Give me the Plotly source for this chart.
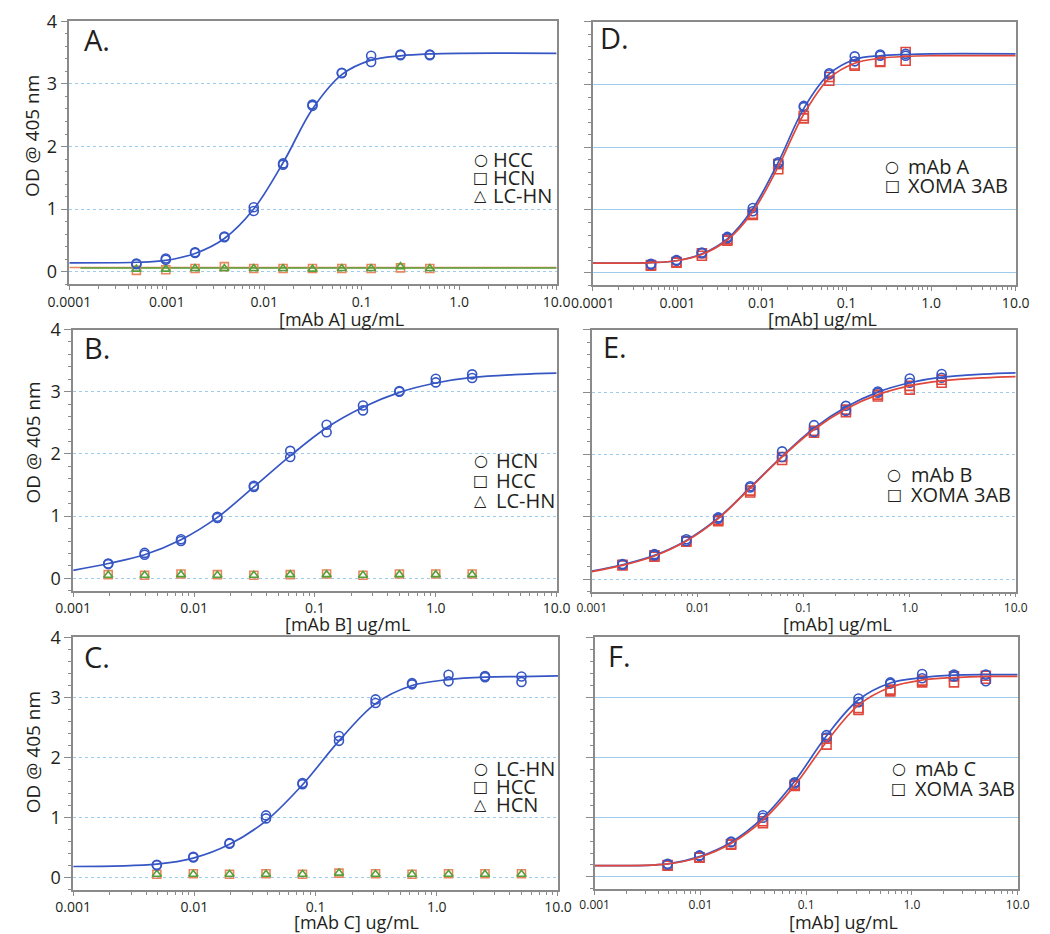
import plotly.graph_objects as go

W, H = 1050, 934

# ---------------- data ----------------
conc_A = [0.000488, 0.000977, 0.00195, 0.0039, 0.0078, 0.0156, 0.03125, 0.0625, 0.125, 0.25, 0.5]
conc_B = [0.00195, 0.0039, 0.0078, 0.0156, 0.03125, 0.0625, 0.125, 0.25, 0.5, 1.0, 2.0]
conc_C = [0.0049, 0.0098, 0.0195, 0.039, 0.078, 0.156, 0.3125, 0.625, 1.25, 2.5, 5.0]

fitx_A = [0.0001, 0.000488, 0.000977, 0.00195, 0.0039, 0.0078, 0.0156, 0.03125, 0.0625, 0.125, 0.25, 0.5, 1.0, 10.0]
fitx_B = [0.001, 0.00195, 0.0039, 0.0078, 0.0156, 0.03125, 0.0625, 0.125, 0.25, 0.5, 1.0, 2.0, 5.0, 10.0]
fitx_C = [0.001, 0.0049, 0.0098, 0.0195, 0.039, 0.078, 0.156, 0.3125, 0.625, 1.25, 2.5, 5.0, 10.0]

# Panel A: mAb A
A_HCC_r1 = [0.13, 0.19, 0.31, 0.56, 0.97, 1.73, 2.65, 3.18, 3.45, 3.47, 3.47]
A_HCC_r2 = [0.12, 0.21, 0.30, 0.55, 1.03, 1.71, 2.67, 3.17, 3.35, 3.46, 3.46]
A_HCN = [0.02, 0.03, 0.05, 0.08, 0.05, 0.05, 0.05, 0.05, 0.05, 0.06, 0.05]
A_LCHN = [0.04, 0.04, 0.05, 0.05, 0.05, 0.05, 0.04, 0.05, 0.05, 0.08, 0.05]
A_HCC_fit = [0.14, 0.15, 0.18, 0.29, 0.53, 1.00, 1.74, 2.60, 3.15, 3.38, 3.45, 3.48, 3.49, 3.49]
A_HCN_fit_x = [0.0001, 10.0]
A_HCN_fit = [0.065, 0.065]
A_LCHN_fit_x = [0.00013, 10.0]
A_LCHN_fit = [0.058, 0.058]

# Panel B: mAb B
B_HCN_r1 = [0.24, 0.41, 0.63, 0.99, 1.49, 2.05, 2.47, 2.78, 3.01, 3.21, 3.28]
B_HCN_r2 = [0.23, 0.38, 0.60, 0.97, 1.47, 1.95, 2.35, 2.70, 3.00, 3.15, 3.22]
B_HCC = [0.06, 0.05, 0.07, 0.06, 0.05, 0.06, 0.07, 0.05, 0.07, 0.07, 0.07]
B_LCHN = [0.05, 0.05, 0.06, 0.05, 0.05, 0.06, 0.06, 0.05, 0.06, 0.06, 0.06]
B_HCN_fit = [0.13, 0.24, 0.38, 0.62, 0.98, 1.47, 1.97, 2.42, 2.75, 2.99, 3.14, 3.23, 3.28, 3.30]

# Panel C: mAb C
C_LCHN_r1 = [0.22, 0.35, 0.58, 1.04, 1.58, 2.36, 2.97, 3.24, 3.38, 3.36, 3.35]
C_LCHN_r2 = [0.21, 0.34, 0.57, 0.99, 1.56, 2.28, 2.91, 3.22, 3.27, 3.34, 3.26]
C_HCC = [0.06, 0.07, 0.06, 0.07, 0.06, 0.08, 0.07, 0.06, 0.07, 0.07, 0.07]
C_HCN = [0.06, 0.06, 0.06, 0.06, 0.06, 0.08, 0.06, 0.06, 0.06, 0.06, 0.06]
C_LCHN_fit = [0.19, 0.23, 0.33, 0.56, 0.95, 1.55, 2.28, 2.90, 3.20, 3.30, 3.34, 3.35, 3.36]

# Panel D: mAb A vs XOMA 3AB
D_mAb_r1 = [0.14, 0.20, 0.32, 0.57, 1.03, 1.76, 2.66, 3.18, 3.45, 3.48, 3.49]
D_mAb_r2 = [0.13, 0.19, 0.31, 0.55, 0.98, 1.74, 2.64, 3.16, 3.37, 3.46, 3.46]
D_XOMA_r1 = [0.12, 0.17, 0.31, 0.53, 0.94, 1.73, 2.50, 3.12, 3.32, 3.37, 3.52]
D_XOMA_r2 = [0.11, 0.16, 0.27, 0.51, 0.92, 1.65, 2.46, 3.06, 3.30, 3.36, 3.38]
D_mAb_fit = [0.15, 0.16, 0.19, 0.30, 0.54, 1.02, 1.76, 2.62, 3.17, 3.40, 3.46, 3.48, 3.49, 3.49]
D_XOMA_fit = [0.15, 0.16, 0.19, 0.29, 0.52, 0.97, 1.69, 2.53, 3.10, 3.34, 3.42, 3.45, 3.46, 3.46]

# Panel E: mAb B vs XOMA 3AB
E_mAb_r1 = [0.24, 0.40, 0.64, 0.99, 1.49, 2.05, 2.47, 2.78, 3.01, 3.22, 3.29]
E_mAb_r2 = [0.23, 0.38, 0.61, 0.97, 1.47, 1.96, 2.36, 2.70, 2.99, 3.15, 3.23]
E_XOMA_r1 = [0.23, 0.38, 0.61, 0.95, 1.39, 1.91, 2.35, 2.68, 2.93, 3.04, 3.15]
E_XOMA_r2 = [0.22, 0.36, 0.60, 0.93, 1.42, 1.96, 2.38, 2.72, 2.96, 3.10, 3.20]
E_mAb_fit = [0.13, 0.23, 0.38, 0.62, 0.98, 1.47, 1.97, 2.42, 2.76, 3.00, 3.15, 3.24, 3.29, 3.31]
E_XOMA_fit = [0.12, 0.22, 0.37, 0.61, 0.97, 1.46, 1.96, 2.40, 2.73, 2.96, 3.10, 3.18, 3.23, 3.25]

# Panel F: mAb C vs XOMA 3AB
F_mAb_r1 = [0.22, 0.36, 0.59, 1.03, 1.58, 2.37, 2.98, 3.25, 3.39, 3.38, 3.38]
F_mAb_r2 = [0.21, 0.35, 0.58, 0.99, 1.56, 2.33, 2.92, 3.23, 3.32, 3.35, 3.27]
F_XOMA_r1 = [0.20, 0.32, 0.55, 0.93, 1.54, 2.21, 2.79, 3.10, 3.25, 3.25, 3.36]
F_XOMA_r2 = [0.19, 0.33, 0.54, 0.90, 1.52, 2.31, 2.82, 3.13, 3.28, 3.35, 3.31]
F_mAb_fit = [0.19, 0.22, 0.34, 0.58, 0.99, 1.60, 2.36, 2.96, 3.24, 3.33, 3.37, 3.38, 3.38]
F_XOMA_fit = [0.19, 0.22, 0.33, 0.56, 0.95, 1.53, 2.26, 2.87, 3.17, 3.29, 3.33, 3.35, 3.35]

# tick labels
ticks_A = [0.0001, 0.001, 0.01, 0.1, 1.0, 10.0]
ticktext_A = ["0.0001", "0.001", "0.01", "0.1", "1.0", "10.0"]
ticks_B = [0.001, 0.01, 0.1, 1.0, 10.0]
ticktext_B = ["0.001", "0.01", "0.1", "1.0", "10.0"]

# ---------------- style ----------------
BLUE = "#3656c4"
RED = "#e0483c"
ORANGE = "#e8875e"
GREEN = "#55a03a"
FRAME = "#8a8a8a"
GRID = "#9fcbea"
TXT = "#231f20"
FONT = "Open Sans, DejaVu Sans, sans-serif"
SYM = "DejaVu Sans, sans-serif"


def px_x(p):
    return p / W


def px_y(p):
    return 1 - p / H


fig = go.Figure()

panels = [
    dict(n=1, box=(49, 553.6, 8.5, 275), xr=[-4, 1], tv=ticks_A, tt=ticktext_A, left=True, dash="dot", tfs=14),
    dict(n=2, box=(591, 1029, 9, 276), xr=[-4, 1], tv=ticks_A, tt=ticktext_A, left=False, dash="solid", tfs=14),
    dict(n=3, box=(53, 553.6, 321, 586), xr=[-3, 1], tv=ticks_B, tt=ticktext_B, left=True, dash="dot", tfs=14),
    dict(n=4, box=(590, 1029, 321.3, 586.7), xr=[-3, 1], tv=ticks_B, tt=ticktext_B, left=False, dash="dot", tfs=12),
    dict(n=5, box=(53, 555, 633.3, 889.3), xr=[-3, 1], tv=ticks_B, tt=ticktext_B, left=True, dash="dot", tfs=14),
    dict(n=6, box=(593, 1031, 633.3, 888.3), xr=[-3, 1], tv=ticks_B, tt=ticktext_B, left=False, dash="solid", tfs=12),
]


def minor_vals(r):
    vals = []
    for d in range(r[0], r[1]):
        for k in range(2, 10):
            vals.append(k * 10 ** d)
    return vals


layout_axes = {}
for p in panels:
    n = p["n"]
    l, r, t, b = p["box"]
    xname = "xaxis" if n == 1 else f"xaxis{n}"
    yname = "yaxis" if n == 1 else f"yaxis{n}"
    ya = "y" if n == 1 else f"y{n}"
    xa = "x" if n == 1 else f"x{n}"
    layout_axes[xname] = dict(
        type="log", range=p["xr"], domain=[px_x(l), px_x(r)], anchor=ya,
        tickmode="array", tickvals=p["tv"], ticktext=p["tt"],
        ticks="outside", ticklen=4, tickwidth=1, tickcolor=FRAME,
        minor=dict(tickmode="array", tickvals=minor_vals(p["xr"]), ticks="outside",
                   ticklen=3, tickwidth=1, tickcolor=FRAME, showgrid=False),
        showline=True, linecolor=FRAME, linewidth=1.5, mirror=True,
        showgrid=False, zeroline=False,
        tickfont=dict(family=FONT, size=p["tfs"], color=TXT),
    )
    layout_axes[yname] = dict(
        range=[-0.2, 4.0], domain=[px_y(b), px_y(t)], anchor=xa,
        tickmode="linear", tick0=0, dtick=1,
        ticks="outside", ticklen=7, tickwidth=1, tickcolor=FRAME,
        minor=dict(dtick=0.2, tick0=0, ticks="outside", ticklen=3, tickwidth=1,
                   tickcolor=FRAME, showgrid=False),
        showline=True, linecolor=FRAME, linewidth=1.5, mirror=True,
        showgrid=True, gridcolor=GRID, gridwidth=1, griddash=p["dash"],
        zeroline=False, showticklabels=p["left"],
        tickfont=dict(family=FONT, size=18, color=TXT),
    )


def axes_of(n):
    return ("x" if n == 1 else f"x{n}"), ("y" if n == 1 else f"y{n}")


def add_fit(n, x, y, color, shape="spline", width=1.7):
    xa, ya = axes_of(n)
    fig.add_trace(go.Scatter(x=x, y=y, mode="lines", line=dict(color=color, width=width, shape=shape, smoothing=1.0),
                             xaxis=xa, yaxis=ya, showlegend=False, hoverinfo="skip"))


def add_pts(n, x, y, color, symbol, size=9):
    xa, ya = axes_of(n)
    fig.add_trace(go.Scatter(x=x, y=y, mode="markers",
                             marker=dict(symbol=symbol, size=size, color=color, line=dict(color=color, width=1.6)),
                             xaxis=xa, yaxis=ya, showlegend=False))


# Panel A
add_fit(1, A_HCN_fit_x, A_HCN_fit, ORANGE, shape="linear", width=1.5)
add_fit(1, A_LCHN_fit_x, A_LCHN_fit, GREEN, shape="linear", width=1.5)
add_pts(1, conc_A, A_HCN, ORANGE, "square-open", 8)
add_pts(1, conc_A, A_LCHN, GREEN, "triangle-up-open", 8)
add_fit(1, fitx_A, A_HCC_fit, BLUE)
add_pts(1, conc_A, A_HCC_r1, BLUE, "circle-open")
add_pts(1, conc_A, A_HCC_r2, BLUE, "circle-open")

# Panel B (axis 3)
add_pts(3, conc_B, B_HCC, ORANGE, "square-open", 8)
add_pts(3, conc_B, B_LCHN, GREEN, "triangle-up-open", 8)
add_fit(3, fitx_B, B_HCN_fit, BLUE)
add_pts(3, conc_B, B_HCN_r1, BLUE, "circle-open")
add_pts(3, conc_B, B_HCN_r2, BLUE, "circle-open")

# Panel C (axis 5)
add_pts(5, conc_C, C_HCC, ORANGE, "square-open", 8)
add_pts(5, conc_C, C_HCN, GREEN, "triangle-up-open", 8)
add_fit(5, fitx_C, C_LCHN_fit, BLUE)
add_pts(5, conc_C, C_LCHN_r1, BLUE, "circle-open")
add_pts(5, conc_C, C_LCHN_r2, BLUE, "circle-open")

# Panel D (axis 2)
add_pts(2, conc_A, D_XOMA_r1, RED, "square-open")
add_pts(2, conc_A, D_XOMA_r2, RED, "square-open")
add_pts(2, conc_A, D_mAb_r1, BLUE, "circle-open")
add_pts(2, conc_A, D_mAb_r2, BLUE, "circle-open")
add_fit(2, fitx_A, D_mAb_fit, BLUE)
add_fit(2, fitx_A, D_XOMA_fit, RED)

# Panel E (axis 4)
add_pts(4, conc_B, E_XOMA_r1, RED, "square-open")
add_pts(4, conc_B, E_XOMA_r2, RED, "square-open")
add_pts(4, conc_B, E_mAb_r1, BLUE, "circle-open")
add_pts(4, conc_B, E_mAb_r2, BLUE, "circle-open")
add_fit(4, fitx_B, E_mAb_fit, BLUE)
add_fit(4, fitx_B, E_XOMA_fit, RED)

# Panel F (axis 6)
add_pts(6, conc_C, F_XOMA_r1, RED, "square-open")
add_pts(6, conc_C, F_XOMA_r2, RED, "square-open")
add_pts(6, conc_C, F_mAb_r1, BLUE, "circle-open")
add_pts(6, conc_C, F_mAb_r2, BLUE, "circle-open")
add_fit(6, fitx_C, F_mAb_fit, BLUE)
add_fit(6, fitx_C, F_XOMA_fit, RED)

# ---------------- annotations ----------------
ann = []


def text(x, y, s, size, xanchor="left", family=FONT, angle=0):
    ann.append(dict(x=px_x(x), y=px_y(y), xref="paper", yref="paper", text=s, showarrow=False,
                    xanchor=xanchor, yanchor="middle", textangle=angle,
                    font=dict(family=family, size=size, color=TXT)))


# panel letters
for lx, ly, s in [(62, 27, "A."), (596, 25, "D."), (62, 339, "B."), (600, 338, "E."),
                  (62, 653, "C."), (605, 652, "F.")]:
    text(lx, ly, s, 29)

# legends (symbol + label)
SYMS = {"c": "○", "s": "□", "t": "△"}
legends = [
    (475, 486, [148, 166, 184], [("c", "HCC"), ("s", "HCN"), ("t", "LC-HN")]),
    (475, 489, [453, 473, 493], [("c", "HCN"), ("s", "HCC"), ("t", "LC-HN")]),
    (475, 489, [765, 783, 802], [("c", "LC-HN"), ("s", "HCC"), ("t", "HCN")]),
    (901, 915, [155, 174], [("c", "mAb A"), ("s", "XOMA 3AB")]),
    (903, 918, [467, 487], [("c", "mAb B"), ("s", "XOMA 3AB")]),
    (908, 923, [765, 785], [("c", "mAb C"), ("s", "XOMA 3AB")]),
]
for sx, tx, ys, items in legends:
    for yy, (sym, lab) in zip(ys, items):
        text(sx, yy + 1, SYMS[sym], 16, xanchor="center", family=SYM)
        text(tx, yy + 1, lab, 20)

# x-axis titles
for cx, cy, s in [(331, 310, "[mAb A] ug/mL"), (337, 620, "[mAb B] ug/mL"), (346, 922, "[mAb C] ug/mL"),
                  (829, 310, "[mAb] ug/mL"), (844, 620, "[mAb] ug/mL"), (851, 922, "[mAb] ug/mL")]:
    text(cx, cy, s, 18, xanchor="center")

# y-axis titles
for cy in [125, 436, 750]:
    text(11, cy, "OD @ 405 nm", 19, xanchor="center", angle=-90)

fig.update_layout(
    width=W, height=H, margin=dict(l=0, r=0, t=0, b=0),
    paper_bgcolor="white", plot_bgcolor="white",
    showlegend=False, annotations=ann,
    font=dict(family=FONT, color=TXT),
    **layout_axes,
)

# remove the default 8px page margin so the figure sits at the window origin
fig.write_html("out.html", config={"displayModeBar": False},
               post_script="document.body.style.margin='0px';")
